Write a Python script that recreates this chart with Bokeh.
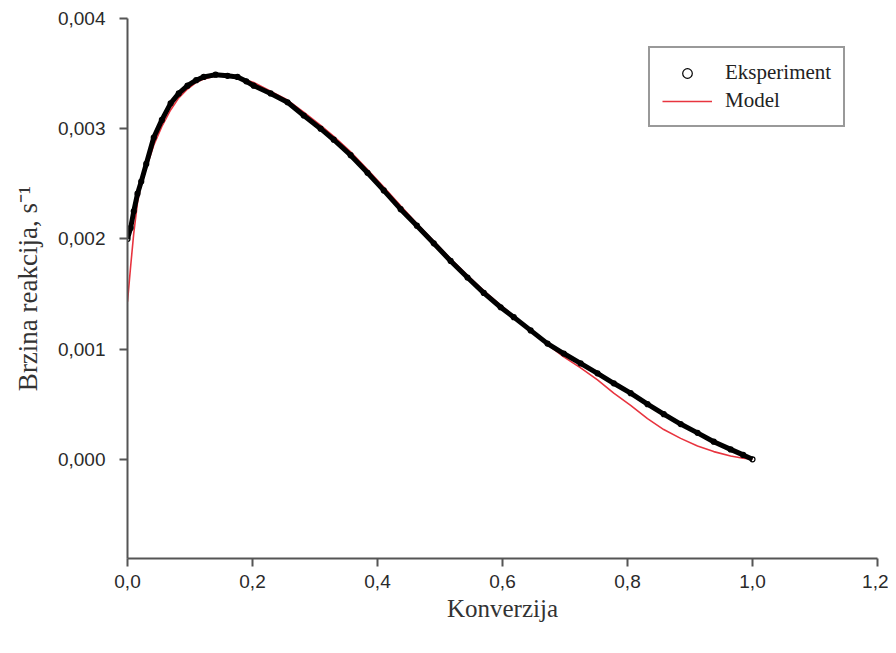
from bokeh.plotting import figure
from bokeh.models import (FixedTicker, CustomJSTickFormatter, Legend, LegendItem, Range1d)
from bokeh.embed import file_html
from bokeh.resources import INLINE

# ---- data ----
exp_x = [0.000, 0.005, 0.010, 0.016, 0.022, 0.030, 0.042, 0.055, 0.069, 0.082,
         0.096, 0.110, 0.122, 0.141, 0.160, 0.176, 0.190, 0.202, 0.229, 0.256,
         0.282, 0.309, 0.330, 0.357, 0.384, 0.410, 0.437, 0.463, 0.490, 0.517,
         0.544, 0.570, 0.597, 0.618, 0.645, 0.672, 0.698, 0.725, 0.752, 0.778,
         0.805, 0.832, 0.858, 0.885, 0.912, 0.938, 0.965, 0.985, 1.000]
exp_y = [0.00200, 0.00210, 0.00225, 0.00241, 0.00252, 0.00268, 0.00292, 0.00308, 0.00323, 0.00332,
         0.00339, 0.00344, 0.00347, 0.00349, 0.00348, 0.00347, 0.00343, 0.00339, 0.00332, 0.00324,
         0.00312, 0.00300, 0.00290, 0.00276, 0.00260, 0.00244, 0.00227, 0.00212, 0.00196, 0.00180,
         0.00165, 0.00151, 0.00138, 0.00129, 0.00117, 0.00105, 0.00096, 0.00087, 0.00078, 0.00069,
         0.00060, 0.00050, 0.00041, 0.00032, 0.00024, 0.00016, 0.00009, 0.00004, 0.00000]

model_x = [0.000, 0.005, 0.010, 0.016, 0.022, 0.030, 0.042, 0.055, 0.069, 0.082,
           0.096, 0.110, 0.122, 0.141, 0.160, 0.176, 0.202, 0.229, 0.256, 0.282,
           0.309, 0.330, 0.357, 0.384, 0.410, 0.437, 0.463, 0.490, 0.517, 0.544,
           0.570, 0.597, 0.618, 0.645, 0.672, 0.698, 0.725, 0.752, 0.778, 0.805,
           0.832, 0.858, 0.885, 0.912, 0.938, 0.965, 0.985, 1.000]
model_y = [0.00143, 0.00175, 0.00205, 0.00233, 0.00250, 0.00264, 0.00285, 0.00302, 0.00317, 0.00328,
           0.00336, 0.00342, 0.00345, 0.00348, 0.00348, 0.00347, 0.00342, 0.00334, 0.00326, 0.00315,
           0.00303, 0.00293, 0.00279, 0.00263, 0.00247, 0.00230, 0.00214, 0.00198, 0.00182, 0.00167,
           0.00153, 0.00140, 0.00130, 0.00117, 0.00104, 0.00093, 0.00083, 0.00072, 0.00060, 0.00049,
           0.00037, 0.00027, 0.00019, 0.00012, 0.00007, 0.00003, 0.00001, 0.00000]

x_ticks = [0.0, 0.2, 0.4, 0.6, 0.8, 1.0, 1.2]
y_ticks = [0.000, 0.001, 0.002, 0.003, 0.004]

x_title = "Konverzija"
y_title = "Brzina reakcija, s\u207b\u00b9"
series_names = ["Eksperiment", "Model"]

# ---- figure ----
p = figure(width=888, height=645, output_backend="svg", toolbar_location=None,
           x_range=Range1d(0, 1.2), y_range=Range1d(-0.0009, 0.004),
           min_border_left=127, min_border_right=11, min_border_top=18, min_border_bottom=87)
p.outline_line_color = None
p.xgrid.visible = False
p.ygrid.visible = False
p.background_fill_color = "white"
p.border_fill_color = "white"

model_r = p.line(model_x, model_y, line_color="#e8343f", line_width=1.6)
band_r = p.line(exp_x, exp_y, line_color="black", line_width=5)
exp_r = p.scatter(exp_x, exp_y, marker="circle", size=5, line_color="black",
                  line_width=1.2, fill_alpha=0)

for ax, ticks, fmt in ((p.xaxis[0], x_ticks, "return tick.toFixed(1).replace('.', ',')"),
                       (p.yaxis[0], y_ticks, "return tick.toFixed(3).replace('.', ',')")):
    ax.ticker = FixedTicker(ticks=ticks)
    ax.formatter = CustomJSTickFormatter(code=fmt)
    ax.axis_line_color = "#555555"
    ax.axis_line_width = 2
    ax.major_tick_line_color = "#555555"
    ax.major_tick_line_width = 2
    ax.major_tick_out = 8
    ax.major_tick_in = 0
    ax.minor_tick_line_color = None
    ax.major_label_text_font = "Liberation Sans"
    ax.major_label_text_font_size = "19px"
    ax.major_label_text_color = "#2a2a2a"
    ax.axis_label_text_font = "Liberation Serif"
    ax.axis_label_text_font_style = "normal"
    ax.axis_label_text_color = "#333333"

p.xaxis[0].axis_label_text_font_size = "25px"
p.yaxis[0].axis_label_text_font_size = "27px"
p.xaxis[0].axis_label = x_title
p.yaxis[0].axis_label = y_title
p.xaxis[0].major_label_standoff = 8
p.yaxis[0].major_label_standoff = 14
p.xaxis[0].axis_label_standoff = 4
p.yaxis[0].axis_label_standoff = 12

legend = Legend(items=[LegendItem(label=series_names[0], renderers=[exp_r]),
                       LegendItem(label=series_names[1], renderers=[model_r])],
                location=(521, 431))
legend.label_text_font = "Liberation Serif"
legend.label_text_font_size = "21px"
legend.label_text_color = "#222222"
legend.glyph_width = 50
legend.glyph_height = 24
legend.label_standoff = 13
legend.padding = 12
legend.spacing = 3
legend.border_line_color = "#333333"
legend.border_line_width = 2
legend.background_fill_color = "white"
legend.margin = 0
p.add_layout(legend, "center")

open("out.html", "w").write(file_html(p, INLINE))
